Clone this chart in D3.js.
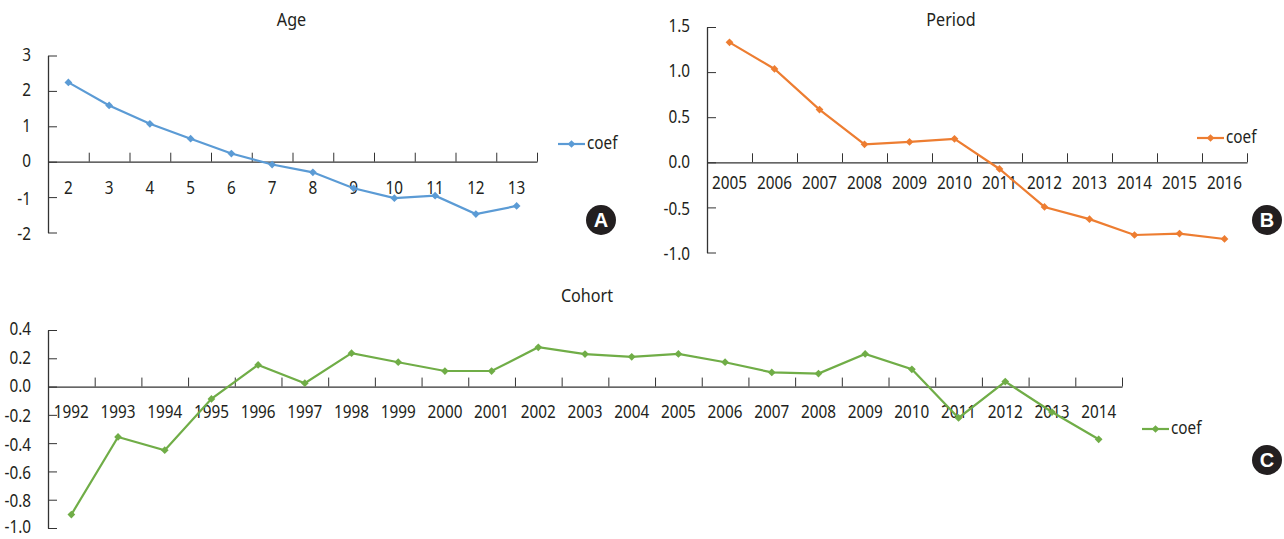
<!DOCTYPE html>
<html><head><meta charset="utf-8">
<script src="https://cdn.jsdelivr.net/npm/d3@7/dist/d3.min.js"></script>
<style>
html,body{margin:0;padding:0;background:#fff}
svg{display:block}
text{font-family:"Noto Sans",sans-serif;font-size:18px;fill:#231f20;transform-box:fill-box;transform-origin:center;transform:scaleX(.85)}
.title{font-size:19px}
.badge{font-family:"Liberation Sans",sans-serif;font-weight:700;font-size:20px;fill:#fff;transform:none}
</style></head><body>
<svg id="c" width="1284" height="539"></svg>
<script>
const ageCategories=["2","3","4","5","6","7","8","9","10","11","12","13"];
const ageValues=[2.24,1.59,1.07,0.65,0.23,-0.08,-0.30,-0.75,-1.03,-0.96,-1.48,-1.25];
const ageTicks=[3,2,1,0,-1,-2];
const periodCategories=["2005","2006","2007","2008","2009","2010","2011","2012","2013","2014","2015","2016"];
const periodValues=[1.33,1.035,0.585,0.20,0.226,0.26,-0.074,-0.495,-0.63,-0.806,-0.79,-0.85];
const periodTicks=[1.5,1,0.5,0,-0.5,-1];
const cohortCategories=["1992","1993","1994","1995","1996","1997","1998","1999","2000","2001","2002","2003","2004","2005","2006","2007","2008","2009","2010","2011","2012","2013","2014"];
const cohortValues=[-0.905,-0.356,-0.45,-0.087,0.153,0.024,0.236,0.172,0.11,0.11,0.278,0.23,0.21,0.231,0.172,0.10,0.092,0.231,0.122,-0.222,0.035,-0.18,-0.373];
const cohortTicks=[0.4,0.2,0,-0.2,-0.4,-0.6,-0.8,-1];

const svg=d3.select("#c");
function panel(o){
  const g=svg.append("g");
  const x=d3.scaleBand().domain(o.cats).range([o.left,o.right]);
  const edges=d3.scaleLinear().domain([0,o.cats.length]).range([o.left,o.right]);
  const y=d3.scaleLinear().domain(o.domain).range([o.top,o.bottom]);
  const cx=d=>x(d)+x.bandwidth()/2;
  g.append("g").attr("transform",`translate(0,${y(0)})`)
    .call(d3.axisTop(edges).tickValues(d3.range(1,o.cats.length+1)).tickSize(9).tickSizeOuter(0).tickFormat(""))
    .call(a=>{a.selectAll("line").attr("stroke","#333").attr("stroke-width",1);a.select(".domain").attr("stroke","#333").attr("stroke-width",1.3);});
  g.append("g").attr("transform",`translate(${o.left},0)`)
    .call(d3.axisRight(y).tickValues(o.ticks).tickSize(9).tickSizeOuter(0).tickFormat(""))
    .call(a=>{a.selectAll("line").attr("stroke","#333").attr("stroke-width",1);a.select(".domain").attr("stroke","#333").attr("stroke-width",1.3);});
  const fmt=d=>o.fmt(d).replace("\u2212","-");
  g.append("g").selectAll("text").data(o.ticks).join("text")
    .attr("x",o.left-17).attr("y",d=>y(d)).attr("dy",d=>y(d)>520?"0.28em":d<0?"0.42em":"0.3em").attr("text-anchor","end")
    .style("transform-origin","right center").text(d=>fmt(d));
  g.append("g").selectAll("text").data(o.cats).join("text")
    .attr("x",cx).attr("y",y(0)+o.labelGap).attr("dy","0.3em").attr("text-anchor","middle").text(d=>d);
  const line=d3.line().x((d,i)=>cx(o.cats[i])).y(d=>y(d));
  g.append("path").attr("d",line(o.values)).attr("fill","none").attr("stroke",o.color).attr("stroke-width",2.2);
  const marker=d3.symbol().type(d3.symbolSquare).size(30);
  g.append("g").selectAll("path").data(o.values).join("path").attr("d",marker)
    .attr("transform",(d,i)=>`translate(${cx(o.cats[i])},${y(d)}) rotate(45)`).attr("fill",o.color);
  g.append("line").attr("x1",o.legend[0]).attr("x2",o.legend[0]+27).attr("y1",o.legend[1]).attr("y2",o.legend[1]).attr("stroke",o.color).attr("stroke-width",2.2);
  g.append("path").attr("d",marker).attr("transform",`translate(${o.legend[0]+13.5},${o.legend[1]}) rotate(45)`).attr("fill",o.color);
  g.append("text").attr("x",o.legend[0]+29).attr("y",o.legend[1]).attr("dy","0.3em").style("transform-origin","left center").text("coef");
  g.append("text").attr("class","title").attr("x",o.title[0]).attr("y",o.title[1]).attr("dy","0.3em").attr("text-anchor","middle").text(o.name);
  g.append("circle").attr("cx",o.badge[0]).attr("cy",o.badge[1]).attr("r",15).attr("fill","#231f20");
  g.append("text").attr("class","badge").attr("x",o.badge[0]).attr("y",o.badge[1]).attr("dy","0.36em").attr("text-anchor","middle").text(o.letter);
}
panel({name:"Age",letter:"A",cats:ageCategories,values:ageValues,ticks:ageTicks,domain:[3,-2],fmt:d3.format("d"),
  left:48,right:537,top:55.5,bottom:232.5,labelGap:27,color:"#5b9bd5",legend:[558,144],title:[291.5,20],badge:[601,220]});
panel({name:"Period",letter:"B",cats:periodCategories,values:periodValues,ticks:periodTicks,domain:[1.5,-1],fmt:d3.format(".1f"),
  left:707,right:1247,top:27,bottom:252.5,labelGap:21,color:"#ed7d31",legend:[1197,138],title:[951,20],badge:[1267,220]});
panel({name:"Cohort",letter:"C",cats:cohortCategories,values:cohortValues,ticks:cohortTicks,domain:[0.4,-1],fmt:d3.format(".1f"),
  left:48,right:1122,top:330,bottom:528,labelGap:26.5,color:"#70ad47",legend:[1142,429],title:[587,296],badge:[1267,460]});
</script>
</body></html>
